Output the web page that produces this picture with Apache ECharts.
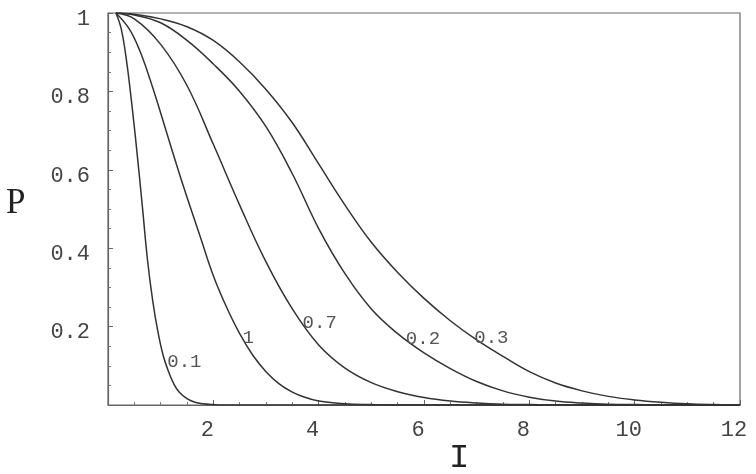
<!DOCTYPE html>
<html>
<head>
<meta charset="utf-8">
<script src="https://cdn.jsdelivr.net/npm/echarts@6/dist/echarts.min.js"></script>
<style>html,body{margin:0;padding:0;background:#fff}#c{width:756px;height:474px}</style>
</head>
<body>
<div id="c"></div>
<script>
// Curve labels (parameter values)
const curveNames = ['0.1', '1', '0.7', '0.2', '0.3'];
// Tick values
const xTicks = [2, 4, 6, 8, 10, 12];
const yTicks = [0.2, 0.4, 0.6, 0.8, 1];
// Series data [I, P]
const curve01 = [[0.15,1],[0.25,0.96],[0.35,0.88],[0.45,0.77],[0.55,0.645],[0.65,0.51],[0.75,0.37],[0.85,0.265],[0.95,0.185],[1.05,0.125],[1.15,0.085],[1.25,0.054],[1.35,0.033],[1.5,0.016],[1.65,0.007],[1.8,0.003],[2.0,0.001],[2.2,0],[12,0]];
const curve1 = [[0.15,1],[0.4,0.96],[0.6,0.905],[0.8,0.83],[1.0,0.745],[1.25,0.635],[1.5,0.53],[1.75,0.43],[2.0,0.33],[2.25,0.25],[2.5,0.182],[2.75,0.127],[3.0,0.085],[3.25,0.054],[3.5,0.033],[3.75,0.019],[4.0,0.010],[4.5,0.003],[5.0,0.001],[5.5,0],[12,0]];
const curve07 = [[0.15,1],[0.5,0.985],[1.0,0.92],[1.5,0.815],[2.0,0.665],[2.5,0.51],[3.0,0.365],[3.5,0.245],[4.0,0.153],[4.5,0.094],[5.0,0.057],[5.5,0.034],[6.0,0.019],[6.5,0.010],[7.0,0.005],[7.5,0.002],[8.0,0.001],[8.5,0],[12,0]];
const curve02 = [[0.15,1],[0.5,0.995],[1.0,0.975],[1.5,0.93],[2.0,0.87],[2.5,0.80],[3.0,0.71],[3.5,0.59],[4.0,0.45],[4.5,0.335],[5.0,0.245],[5.5,0.182],[6.0,0.133],[6.5,0.093],[7.0,0.060],[7.5,0.036],[8.0,0.020],[8.5,0.010],[9.0,0.005],[9.5,0.002],[10.0,0.001],[11.0,0],[12,0]];
const curve03 = [[0.15,1],[0.5,0.997],[1.0,0.985],[1.5,0.965],[2.0,0.93],[2.5,0.875],[3.0,0.805],[3.5,0.72],[4.0,0.615],[4.5,0.51],[5.0,0.415],[5.5,0.338],[6.0,0.272],[6.5,0.215],[7.0,0.166],[7.5,0.124],[8.0,0.085],[8.5,0.056],[9.0,0.036],[9.5,0.022],[10.0,0.013],[10.5,0.007],[11.0,0.003],[11.5,0.001],[12,0]];
const curves = [curve01, curve1, curve07, curve02, curve03];
// label anchor points (data coords) for each curve name
const labelAt = [[1.45,0.11],[2.66,0.17],[4.02,0.21],[5.98,0.168],[7.28,0.17]];

const mono = "'Liberation Mono', 'Courier New', 'DejaVu Sans Mono', monospace";
const chart = echarts.init(document.getElementById('c'), null, {renderer:'canvas'});
const series = curves.map((d, i) => ({
  type: 'line',
  data: d,
  smooth: 0.4,
  symbol: 'none',
  lineStyle: {color: '#333', width: 1.5},
  z: 3,
  markPoint: {
    symbol: 'circle', symbolSize: 0, silent: true,
    data: [{coord: labelAt[i], value: curveNames[i]}],
    label: {show: true, formatter: curveNames[i], color: '#555', fontFamily: mono, fontSize: 19, position: 'inside'}
  }
}));
chart.setOption({
  animation: false,
  backgroundColor: '#fff',
  grid: {left: 108, right: 16, top: 13, bottom: 69, show: true, borderColor: '#666', borderWidth: 1.2},
  xAxis: {
    type: 'value', min: 0, max: 12, interval: 2,
    axisLine: {show: true, onZero: false, lineStyle: {color: '#666', width: 1.2}},
    axisTick: {show: true, inside: true, length: 5, lineStyle: {color: '#666'}},
    minorTick: {show: true, splitNumber: 4, length: 3, lineStyle: {color: '#777'}},
    splitLine: {show: false},
    axisLabel: {margin: 14, color: '#444', fontFamily: mono, fontSize: 22, padding: [0, 12, 0, 0],
      formatter: v => xTicks.includes(v) ? String(v) : ''}
  },
  yAxis: {
    type: 'value', min: 0, max: 1, interval: 0.2,
    axisLine: {show: true, onZero: false, lineStyle: {color: '#666', width: 1.2}},
    axisTick: {show: true, inside: true, length: 5, lineStyle: {color: '#666'}},
    minorTick: {show: true, splitNumber: 4, length: 3, lineStyle: {color: '#777'}},
    splitLine: {show: false},
    axisLabel: {margin: 18, color: '#444', fontFamily: mono, fontSize: 22, verticalAlign: 'top', lineHeight: 12,
      formatter: v => { const m = yTicks.find(t => Math.abs(t - v) < 1e-6); return m === undefined ? '' : String(m); }}
  },
  graphic: [
    {type: 'text', left: 6, top: 186, style: {text: 'P', font: "35px 'Liberation Serif', 'DejaVu Serif', serif", fill: '#222'}},
    {type: 'text', left: 449, top: 441, style: {text: 'I', font: "34px 'Liberation Mono', 'Courier New', monospace", fill: '#222'}}
  ],
  series: series
});
</script>
</body>
</html>
